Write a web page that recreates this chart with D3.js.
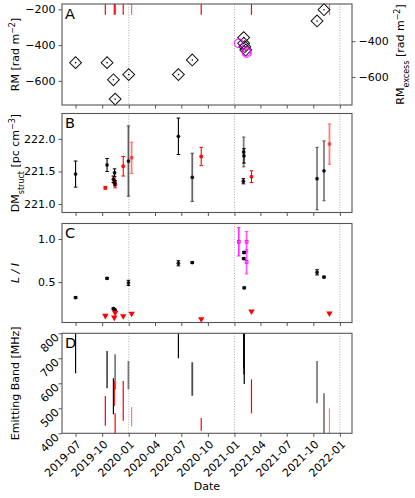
<!DOCTYPE html>
<html>
<head>
<meta charset="utf-8">
<script src="https://cdn.jsdelivr.net/npm/d3@7"></script>
<style>
  body { margin: 0; background: #fff; }
  svg text { font-family: "DejaVu Sans", sans-serif; fill: #000; }
</style>
</head>
<body>
<svg id="chart" width="415" height="498"></svg>
<script>
// ---- data ----
const yearLines = ["2020-01-01", "2021-01-01", "2022-01-01"];

// A: rotation measure
const rmDates  = ["2019-07-01", "2019-10-18", "2019-11-09", "2019-11-15", "2020-01-01", "2020-06-21",
                  "2020-08-08", "2021-02-02", "2021-02-02", "2021-02-06", "2021-02-09", "2021-10-14", "2021-11-07"];
const rmValues = [-498, -498, -594, -702, -565, -565, -483, -358, -390, -409, -427, -265, -202];
const rmMagDates  = ["2021-01-16", "2021-02-11", "2021-02-13"];
const rmMagValues = [-390, -437, -445];
const rmExcessOffset = 22;
const rmTicks = [-600, -400, -200];
const rmExcessTicks = [-600, -400];

// epochs without RM detection (red)
const redDates = ["2019-10-12", "2019-11-12", "2019-11-15", "2019-12-13", "2020-01-11",
                  "2020-09-08", "2021-03-01", "2021-11-26"];
const redAlpha = [1, 1, 1, 1, 0.5, 1, 1, 0.5];

// B: structural DM
const dmDates = ["2019-07-01", "2019-10-18", "2019-11-09", "2019-11-13", "2019-11-14", "2019-12-31",
                 "2020-06-21", "2020-08-08", "2021-02-02", "2021-02-03", "2021-02-01", "2021-10-14", "2021-11-07"];
const dmValues = [221.46, 221.60, 221.38, 221.48, 221.32, 221.66, 222.04, 221.41, 221.80, 221.74, 221.35, 221.39, 221.51];
const dmErrors = [0.20, 0.10, 0.05, 0.06, 0.04, 0.54, 0.28, 0.37, 0.23, 0.11, 0.04, 0.48, 0.46];
const dmAlpha  = [1, 1, 1, 1, 1, 0.6, 1, 0.6, 0.5, 1, 1, 0.5, 0.5];
const dmRedValues = [221.25, 221.36, 221.30, 221.58, 221.71, 221.73, 221.42, 221.92];
const dmRedErrors = [0.02, 0.04, 0.05, 0.15, 0.24, 0.14, 0.09, 0.31];
const dmTicks = [221.0, 221.5, 222.0];

// C: linear polarisation fraction
const linDates  = ["2019-07-01", "2019-10-18", "2019-11-09", "2019-11-13", "2019-11-15", "2019-12-31",
                   "2020-06-21", "2020-08-08", "2021-02-03", "2021-02-02", "2021-02-04", "2021-10-14", "2021-11-07"];
const linValues = [0.32, 0.543, 0.19, 0.18, 0.165, 0.49, 0.718, 0.726, 0.843, 0.773, 0.433, 0.613, 0.558];
const linErrors = [0.01, 0.01, 0.01, 0.01, 0.01, 0.03, 0.03, 0.01, 0.01, 0.01, 0.01, 0.03, 0.01];
const linMagDates  = ["2021-01-16", "2021-02-12", "2021-02-12"];
const linMagValues = [0.968, 0.968, 0.734];
const linMagErrors = [0.165, 0.12, 0.14];
const linUpperLimits = [0.109, 0.089, 0.144, 0.105, 0.133, 0.07, 0.16, 0.136];
const linTicks = [0.5, 1.0];

// D: emitting band
const bandDates = ["2019-07-01", "2019-10-18", "2019-11-15", "2019-11-09", "2019-12-31", "2020-06-21",
                   "2020-08-08", "2021-02-02", "2021-02-03", "2021-02-04", "2021-10-14", "2021-11-07"];
const bandLow   = [640, 580, 575, 476, 576, 700, 550, 660, 635, 597, 520, 400];
const bandHigh  = [800, 729, 716, 620, 689, 800, 684, 800, 800, 800, 689, 560];
const bandAlpha = [1, 1, 0.5, 1, 0.5, 1, 0.7, 1, 1, 1, 0.5, 0.5];
const bandRedLow  = [430, 509, 400, 450, 427, 410, 480, 400];
const bandRedHigh = [549, 609, 480, 609, 505, 461, 616, 500];
const bandTicks = [400, 500, 600, 700, 800];

// ---- layout ----
const COLORS = { black: "#000", red: "#ff0000", magenta: "#ff00ff", frame: "#555", grid: "#aaa" };
const LEFT = 62, RIGHT = 352;
const PANELS = {
  A: { top: 4, bottom: 105, domain: [-735, -170] },
  B: { top: 113.5, bottom: 212.5, domain: [220.87, 222.39] },
  C: { top: 223.5, bottom: 322.5, domain: [0.03, 1.18] },
  D: { top: 333.3, bottom: 433.3, domain: [400, 800] }
};

const parse = d3.timeParse("%Y-%m-%d");
const svg = d3.select("#chart");

const x = d3.scaleTime()
  .domain([parse("2019-05-15"), parse("2022-02-12")])
  .range([LEFT, RIGHT]);
const xTicks = d3.timeMonth.range(parse("2019-07-01"), parse("2022-01-02"), 3);

Object.values(PANELS).forEach(p => {
  p.y = d3.scaleLinear().domain(p.domain).range([p.bottom, p.top]);
  p.g = svg.append("g");
  // dotted year separators
  p.g.selectAll("line.year").data(yearLines).enter().append("line")
    .attr("x1", d => x(parse(d))).attr("x2", d => x(parse(d)))
    .attr("y1", p.top).attr("y2", p.bottom)
    .attr("stroke", COLORS.grid).attr("stroke-width", 1).attr("stroke-dasharray", "1,1.6");
});

function styleAxis(g) {
  g.select(".domain").remove();
  g.selectAll(".tick line").attr("stroke", COLORS.frame).attr("stroke-width", 1);
  g.selectAll(".tick text").attr("font-size", 11).attr("fill", "#000");
}

function frame(p, letter) {
  p.g.append("rect")
    .attr("x", LEFT).attr("y", p.top)
    .attr("width", RIGHT - LEFT).attr("height", p.bottom - p.top)
    .attr("fill", "none").attr("stroke", COLORS.frame).attr("stroke-width", 1.1);
  p.g.append("text")
    .attr("x", LEFT + 3).attr("y", p.top + 14.5)
    .attr("font-size", 14.5)
    .text(letter);
}

function yLabel(p, parts, italic) {
  const t = svg.append("text")
    .attr("transform", `translate(19,${(p.top + p.bottom) / 2}) rotate(-90)`)
    .attr("text-anchor", "middle")
    .attr("font-size", 11);
  if (italic) t.attr("font-style", "italic");
  parts.forEach(([s, shift]) => {
    const ts = t.append("tspan").text(s);
    if (shift) ts.attr("baseline-shift", shift).attr("font-size", 8);
  });
  return t;
}

// ---- panel A ----
const A = PANELS.A;
A.g.selectAll("line.red").data(redDates).enter().append("line")
  .attr("x1", d => x(parse(d))).attr("x2", d => x(parse(d)))
  .attr("y1", A.top).attr("y2", A.y(-200) + 5.5)
  .attr("stroke", COLORS.red).attr("stroke-width", 1.2)
  .attr("opacity", (d, i) => redAlpha[i] < 1 ? 0.6 : 1);

const diamond = d3.symbol().type(d3.symbolSquare).size(70);
A.g.selectAll("path.rm").data(rmDates).enter().append("path")
  .attr("d", diamond)
  .attr("transform", (d, i) => `translate(${x(parse(d))},${A.y(rmValues[i])}) rotate(45)`)
  .attr("fill", "none").attr("stroke", "#111").attr("stroke-width", 1);
A.g.selectAll("circle.rmdot").data(rmDates).enter().append("circle")
  .attr("cx", d => x(parse(d))).attr("cy", (d, i) => A.y(rmValues[i]))
  .attr("r", 0.8).attr("fill", "#000");
A.g.selectAll("circle.mag").data(rmMagDates).enter().append("circle")
  .attr("cx", d => x(parse(d))).attr("cy", (d, i) => A.y(rmMagValues[i]))
  .attr("r", 4.3).attr("fill", "none")
  .attr("stroke", COLORS.magenta).attr("stroke-width", 1.2).attr("opacity", 0.8);

frame(A, "A");
A.g.append("g").attr("transform", `translate(${LEFT},0)`)
  .call(d3.axisLeft(A.y).tickValues(rmTicks).tickSize(3.5).tickPadding(3).tickFormat(d3.format("d")))
  .call(styleAxis);
const yExcess = d3.scaleLinear().domain(A.domain.map(v => v - rmExcessOffset)).range([A.bottom, A.top]);
A.g.append("g").attr("transform", `translate(${RIGHT},0)`)
  .call(d3.axisRight(yExcess).tickValues(rmExcessTicks).tickSize(3.5).tickPadding(3).tickFormat(d3.format("d")))
  .call(styleAxis);

yLabel(A, [["RM [rad m"], ["−2", "super"], ["]"]]);
svg.append("text")
  .attr("transform", `translate(404,${(A.top + A.bottom) / 2}) rotate(-90)`)
  .attr("text-anchor", "middle").attr("font-size", 11)
  .call(t => {
    t.append("tspan").text("RM");
    t.append("tspan").text("excess").attr("baseline-shift", "sub").attr("font-size", 8);
    t.append("tspan").text(" [rad m");
    t.append("tspan").text("−2").attr("baseline-shift", "super").attr("font-size", 8);
    t.append("tspan").text("]");
  });

// error bar helper
function errorBars(p, dates, values, errors, color, alphas) {
  const g = p.g.append("g");
  dates.forEach((d, i) => {
    const cx = x(parse(d));
    const lo = p.y(values[i] - errors[i]), hi = p.y(values[i] + errors[i]);
    const a = alphas ? alphas[i] : 1;
    g.append("line").attr("x1", cx).attr("x2", cx).attr("y1", lo).attr("y2", hi)
      .attr("stroke", color).attr("stroke-width", a < 1 ? 1.8 : 1.1).attr("opacity", a);
    [lo, hi].forEach(yy => g.append("line")
      .attr("x1", cx - 1.8).attr("x2", cx + 1.8).attr("y1", yy).attr("y2", yy)
      .attr("stroke", color).attr("stroke-width", 1).attr("opacity", a));
  });
  return g;
}

// ---- panel B ----
const B = PANELS.B;
errorBars(B, redDates, dmRedValues, dmRedErrors, COLORS.red, redAlpha);
B.g.selectAll("circle.red").data(redDates).enter().append("circle")
  .attr("cx", d => x(parse(d))).attr("cy", (d, i) => B.y(dmRedValues[i]))
  .attr("r", 2).attr("fill", COLORS.red).attr("opacity", (d, i) => redAlpha[i] < 1 ? 0.6 : 0.9);
errorBars(B, dmDates, dmValues, dmErrors, "#000", dmAlpha);
B.g.selectAll("circle.blk").data(dmDates).enter().append("circle")
  .attr("cx", d => x(parse(d))).attr("cy", (d, i) => B.y(dmValues[i]))
  .attr("r", 1.9).attr("fill", "#000").attr("opacity", 0.85);
frame(B, "B");
B.g.append("g").attr("transform", `translate(${LEFT},0)`)
  .call(d3.axisLeft(B.y).tickValues(dmTicks).tickSize(3.5).tickPadding(3).tickFormat(d3.format(".1f")))
  .call(styleAxis);
yLabel(B, [["DM"], ["struct", "sub"], [" [pc cm"], ["−3", "super"], ["]"]]);

// ---- panel C ----
const C = PANELS.C;
errorBars(C, linMagDates, linMagValues, linMagErrors, COLORS.magenta, [0.8, 0.65, 0.65]);
C.g.selectAll("rect.mag").data(linMagDates).enter().append("rect")
  .attr("x", d => x(parse(d)) - 1.4).attr("y", (d, i) => C.y(linMagValues[i]) - 1.4)
  .attr("width", 2.8).attr("height", 2.8)
  .attr("fill", "none").attr("stroke", COLORS.magenta).attr("stroke-width", 0.9);
errorBars(C, linDates, linValues, linErrors, "#000");
C.g.selectAll("circle.blk").data(linDates).enter().append("circle")
  .attr("cx", d => x(parse(d))).attr("cy", (d, i) => C.y(linValues[i]))
  .attr("r", 1.9).attr("fill", "#000").attr("opacity", 0.85);
const tri = d3.symbol().type(d3.symbolTriangle).size(18);
C.g.selectAll("path.ul").data(redDates).enter().append("path")
  .attr("d", tri)
  .attr("transform", (d, i) => `translate(${x(parse(d))},${C.y(linUpperLimits[i])}) rotate(180)`)
  .attr("fill", COLORS.red);
frame(C, "C");
C.g.append("g").attr("transform", `translate(${LEFT},0)`)
  .call(d3.axisLeft(C.y).tickValues(linTicks).tickSize(3.5).tickPadding(3).tickFormat(d3.format(".1f")))
  .call(styleAxis);
yLabel(C, [["L / I"]], true);

// ---- panel D ----
const D = PANELS.D;
D.g.selectAll("line.band").data(bandDates).enter().append("line")
  .attr("x1", d => x(parse(d))).attr("x2", d => x(parse(d)))
  .attr("y1", (d, i) => D.y(bandLow[i])).attr("y2", (d, i) => D.y(bandHigh[i]))
  .attr("stroke", "#000").attr("stroke-width", (d, i) => bandAlpha[i] < 1 ? 1.8 : 1.2)
  .attr("opacity", (d, i) => bandAlpha[i]);
D.g.selectAll("line.redband").data(redDates).enter().append("line")
  .attr("x1", d => x(parse(d))).attr("x2", d => x(parse(d)))
  .attr("y1", (d, i) => D.y(bandRedLow[i])).attr("y2", (d, i) => D.y(bandRedHigh[i]))
  .attr("stroke", COLORS.red).attr("stroke-width", 1.2)
  .attr("opacity", (d, i) => redAlpha[i]);
frame(D, "D");
D.g.append("g").attr("transform", `translate(${LEFT},0)`)
  .call(d3.axisLeft(D.y).tickValues(bandTicks).tickSize(3.5).tickFormat(d3.format("d")))
  .call(styleAxis)
  .call(g => g.selectAll(".tick text")
    .attr("x", 0).attr("dy", "0.35em").attr("text-anchor", "end")
    .attr("transform", "translate(-5,1.5) rotate(-45)"));
yLabel(D, [["Emitting Band [MHz]"]]);

// shared x axes
Object.values(PANELS).forEach(p => {
  const ax = p.g.append("g").attr("transform", `translate(0,${p.bottom})`)
    .call(d3.axisBottom(x).tickValues(xTicks).tickSize(3.5).tickFormat(p === D ? d3.timeFormat("%Y-%m") : ""))
    .call(styleAxis);
  if (p === D) {
    ax.selectAll(".tick text")
      .attr("y", 0).attr("dy", "0.35em").attr("text-anchor", "end")
      .attr("transform", "translate(3,9) rotate(-45)");
  }
});
svg.append("text")
  .attr("x", (LEFT + RIGHT) / 2).attr("y", 490)
  .attr("text-anchor", "middle").attr("font-size", 11)
  .text("Date");
</script>
</body>
</html>
